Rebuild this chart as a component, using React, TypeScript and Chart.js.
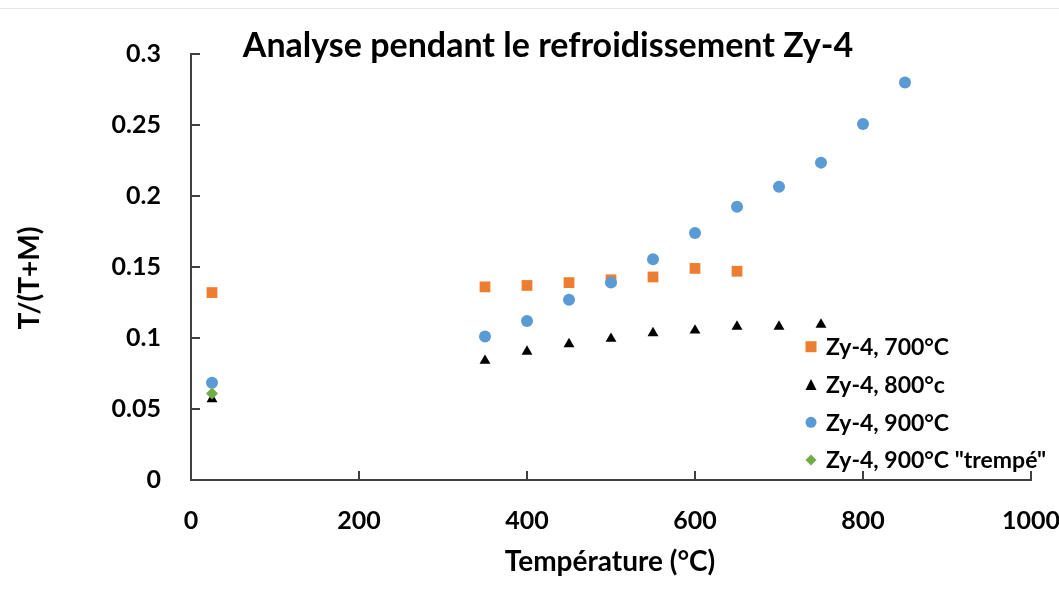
import React, { useEffect, useRef } from "react";
import { Chart, registerables } from "chart.js";

Chart.register(...registerables);

const chartTitle = "Analyse pendant le refroidissement Zy-4";
const xTitle = "Température (°C)";
const yTitle = "T/(T+M)";

const seriesNames = ["Zy-4, 700°C", "Zy-4, 800°c", "Zy-4, 900°C", 'Zy-4, 900°C "trempé"'];
const seriesColors = ["#ED7D31", "#000000", "#5B9BD5", "#70AD47"];
const seriesShapes = ["rect", "triangle", "circle", "rectRot"];

const temps700 = [25, 350, 400, 450, 500, 550, 600, 650];
const vals700 = [0.132, 0.136, 0.137, 0.139, 0.141, 0.143, 0.149, 0.147];

const temps800 = [25, 350, 400, 450, 500, 550, 600, 650, 700, 750];
const vals800 = [0.057, 0.084, 0.0905, 0.0957, 0.0995, 0.1035, 0.1053, 0.108, 0.108, 0.1095];

const temps900 = [25, 350, 400, 450, 500, 550, 600, 650, 700, 750, 800, 850];
const vals900 = [0.0685, 0.101, 0.112, 0.127, 0.139, 0.1555, 0.174, 0.1925, 0.2065, 0.2235, 0.2507, 0.28];

const tempsQ = [25];
const valsQ = [0.061];

const xMin = 0, xMax = 1000, xStep = 200;
const yMin = 0, yMax = 0.3, yStep = 0.05;

const FONT = "Lato, 'Open Sans', sans-serif";

function toPoints(xs: number[], ys: number[]) {
  return xs.map((x, i) => ({ x, y: ys[i] }));
}

function drawMarker(ctx: CanvasRenderingContext2D, shape: string, x: number, y: number, s: number, color: string) {
  ctx.save();
  ctx.fillStyle = color;
  ctx.beginPath();
  if (shape === "rect") {
    ctx.rect(x - s / 2, y - s / 2, s, s);
  } else if (shape === "triangle") {
    ctx.moveTo(x, y - s / 2);
    ctx.lineTo(x + s / 2, y + s / 2);
    ctx.lineTo(x - s / 2, y + s / 2);
    ctx.closePath();
  } else if (shape === "circle") {
    ctx.arc(x, y, s / 2, 0, Math.PI * 2);
  } else {
    ctx.moveTo(x, y - s / 2);
    ctx.lineTo(x + s / 2, y);
    ctx.lineTo(x, y + s / 2);
    ctx.lineTo(x - s / 2, y);
    ctx.closePath();
  }
  ctx.fill();
  ctx.restore();
}

const decorPlugin = {
  id: "decor",
  afterDraw(chart: any) {
    const ctx: CanvasRenderingContext2D = chart.ctx;
    const area = chart.chartArea;
    const xs = chart.scales.x;
    const ys = chart.scales.y;
    ctx.save();
    // inside tick marks
    ctx.strokeStyle = "#404040";
    ctx.lineWidth = 2;
    xs.ticks.forEach((t: any) => {
      const px = Math.round(xs.getPixelForValue(t.value));
      ctx.beginPath();
      ctx.moveTo(px, area.bottom);
      ctx.lineTo(px, area.bottom - 9);
      ctx.stroke();
    });
    ys.ticks.forEach((t: any) => {
      const py = Math.round(ys.getPixelForValue(t.value));
      ctx.beginPath();
      ctx.moveTo(area.left, py);
      ctx.lineTo(area.left + 9, py);
      ctx.stroke();
    });
    // title
    ctx.fillStyle = "#000";
    ctx.font = `bold 34px ${FONT}`;
    ctx.textAlign = "center";
    ctx.textBaseline = "alphabetic";
    ctx.fillText(chartTitle, 548, 57);
    // x title
    ctx.font = `bold 28px ${FONT}`;
    ctx.fillText(xTitle, 610, 571);
    // y title
    ctx.save();
    ctx.translate(39, 278);
    ctx.rotate(-Math.PI / 2);
    ctx.textBaseline = "alphabetic";
    ctx.fillText(yTitle, 0, 0);
    ctx.restore();
    // legend
    const rowYs = [346.7, 384.5, 422.3, 460];
    ctx.font = `bold 23px ${FONT}`;
    ctx.textAlign = "left";
    ctx.textBaseline = "middle";
    seriesNames.forEach((name, i) => {
      drawMarker(ctx, seriesShapes[i], 811, rowYs[i], 11, seriesColors[i]);
      ctx.fillStyle = "#000";
      ctx.fillText(name, 826, rowYs[i] + 1);
    });
    ctx.restore();
  },
};

export default function App() {
  const canvasRef = useRef<HTMLCanvasElement | null>(null);

  useEffect(() => {
    if (!canvasRef.current) return;
    const tickFont = { family: FONT, size: 25, weight: "bold" as const };
    const chart = new Chart(canvasRef.current, {
      type: "scatter",
      data: {
        datasets: [
          {
            label: seriesNames[0],
            data: toPoints(temps700, vals700),
            pointStyle: "rect",
            pointRadius: 7.6,
            backgroundColor: seriesColors[0],
            borderColor: seriesColors[0],
            borderWidth: 0,
            order: 3,
          },
          {
            label: seriesNames[1],
            data: toPoints(temps800, vals800),
            pointStyle: "triangle",
            pointRadius: 6.3,
            backgroundColor: seriesColors[1],
            borderColor: seriesColors[1],
            borderWidth: 0,
            order: 2,
          },
          {
            label: seriesNames[2],
            data: toPoints(temps900, vals900),
            pointStyle: "circle",
            pointRadius: 6,
            backgroundColor: seriesColors[2],
            borderColor: seriesColors[2],
            borderWidth: 0,
            order: 1,
          },
          {
            label: seriesNames[3],
            data: toPoints(tempsQ, valsQ),
            pointStyle: "rectRot",
            pointRadius: 6,
            backgroundColor: seriesColors[3],
            borderColor: seriesColors[3],
            borderWidth: 0,
            order: 0,
          },
        ],
      },
      options: {
        responsive: false,
        animation: false,
        events: [],
        layout: { autoPadding: false, padding: { top: 54, right: 28, left: 0, bottom: 0 } },
        plugins: { legend: { display: false }, tooltip: { enabled: false }, title: { display: false } },
        scales: {
          x: {
            type: "linear",
            min: xMin,
            max: xMax,
            ticks: {
              stepSize: xStep,
              font: tickFont,
              color: "#000",
              padding: 26,
              maxRotation: 0,
              callback: (v: any) => String(v),
            },
            grid: { display: false, drawTicks: false },
            border: { display: true, color: "#404040", width: 2 },
            afterFit: (s: any) => {
              s.height = 114;
              s.paddingLeft = 0;
              s.paddingRight = 0;
            },
          },
          y: {
            type: "linear",
            min: yMin,
            max: yMax,
            ticks: {
              stepSize: yStep,
              font: tickFont,
              color: "#000",
              padding: 30,
              callback: (v: any) => String(parseFloat(Number(v).toFixed(2))),
            },
            grid: { display: false, drawTicks: false },
            border: { display: true, color: "#404040", width: 2 },
            afterFit: (s: any) => {
              s.width = 191;
              s.paddingTop = 0;
              s.paddingBottom = 0;
            },
          },
        },
      },
      plugins: [decorPlugin],
    });
    return () => chart.destroy();
  }, []);

  return (
    <div style={{ position: "absolute", left: 0, top: 0, width: 1059, height: 594, background: "#fff" }}>
      <div style={{ position: "absolute", left: 0, top: 8, width: 1059, height: 1, background: "#e8e8e8" }} />
      <canvas ref={canvasRef} width={1059} height={594} style={{ display: "block" }} />
    </div>
  );
}
